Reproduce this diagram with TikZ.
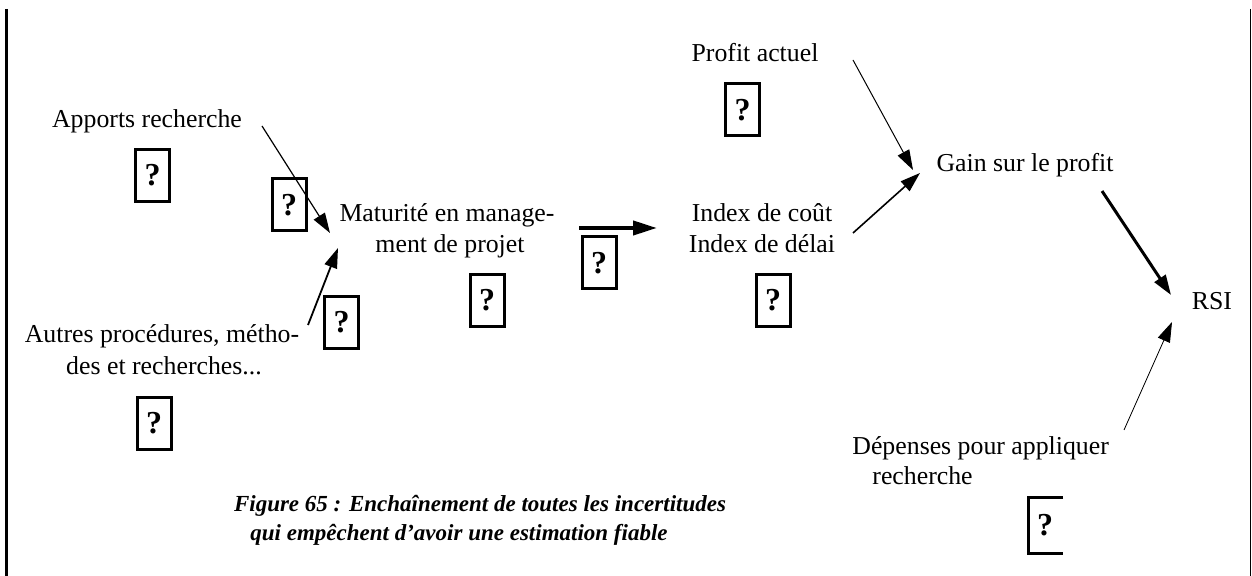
\documentclass[tikz,border=0pt]{standalone}
\usepackage{fontspec}
\setmainfont{Liberation Serif}
\usetikzlibrary{arrows.meta}
\begin{document}
\begin{tikzpicture}[x=0.5pt,y=-0.5pt,
  lbl/.style={anchor=base, inner sep=0pt, font=\fontsize{12.9}{15.5}\selectfont},
  lblw/.style={anchor=base west, inner sep=0pt, font=\fontsize{12.9}{15.5}\selectfont},
  captxt/.style={anchor=base, inner sep=0pt, font=\fontsize{11.5}{14}\selectfont\bfseries\itshape},
  qbox/.style={draw, line width=1.5pt, minimum width=17pt, minimum height=26pt, inner sep=0pt, font=\fontsize{16}{18}\selectfont\bfseries},
  qtext/.style={inner sep=0pt, font=\fontsize{16}{18}\selectfont\bfseries},
  tip/.style={-{Triangle[length=10pt,width=6.5pt]}},
  bigtip/.style={-{Triangle[length=12pt,width=7pt]}}
]
\useasboundingbox (0,0) rectangle (1252,576);
% borders
\coordinate (lt) at (6.5,9); \coordinate (lb) at (6.5,576);
\coordinate (rt) at (1250.5,9); \coordinate (rb) at (1250.5,576);
\draw[line width=1.5pt] (lt) -- (lb);
\draw[line width=0.5pt] (rt) -- (rb);

% labels
\node[lbl] (apports) at (147,128) {Apports recherche};
\node[lbl] (mat1) at (447,222) {Maturité en manage-};
\node[lbl] (mat2) at (450,253) {ment de projet};
\node[lbl] (autres1) at (162,343) {Autres procédures, métho-};
\node[lbl] (autres2) at (164,375) {des et recherches...};
\node[lbl] (idx1) at (762,222) {Index de coût};
\node[lbl] (idx2) at (762,253) {Index de délai};
\node[lbl] (profit) at (755,62) {Profit actuel};
\node[lbl] (gain) at (1025,172) {Gain sur le profit};
\node[lbl] (rsi) at (1212,310) {RSI};
\node[lblw] (dep1) at (852,455) {Dépenses pour appliquer};
\node[lblw] (dep2) at (872,485) {recherche};
\node[captxt] (cap1) at (480,511) {Figure 65 : Enchaînement de toutes les incertitudes};
\node[captxt] (cap2) at (459,540) {qui empêchent d’avoir une estimation fiable};

% question boxes
\node[qbox] (q1) at (152.5,175.5) {?};
\node[qbox] (q2) at (289,205) {?};
\node[qbox] (q3) at (341.5,322.5) {?};
\node[qbox] (q4) at (154,423.5) {?};
\node[qbox] (q5) at (487,300.5) {?};
\node[qbox] (q6) at (599,263) {?};
\node[qbox] (q7) at (773,300.5) {?};
\node[qbox] (q8) at (742.5,110) {?};
\node[qtext] (q9) at (1045,525.5) {?};
\coordinate (q9tr) at (1063,497.5);
\coordinate (q9tl) at (1028.5,497.5);
\coordinate (q9bl) at (1028.5,553.5);
\coordinate (q9br) at (1063,553.5);
\draw[line width=1.5pt] (q9tr) -- (q9tl) -- (q9bl) -- (q9br);

% arrow end points
\coordinate (aA) at (262,126); \coordinate (bA) at (330,233);
\coordinate (aB) at (308,325); \coordinate (bB) at (338,248);
\coordinate (aC) at (579,228); \coordinate (bC) at (657,228);
\coordinate (aD) at (853,233); \coordinate (bD) at (920,173);
\coordinate (aE) at (853,60);  \coordinate (bE) at (913,170);
\coordinate (aF) at (1102,191); \coordinate (bF) at (1171,295);
\coordinate (aG) at (1124,430); \coordinate (bG) at (1172,322);

\draw[tip, line width=0.6pt] (aA) -- (bA);
\draw[tip, line width=0.9pt] (aB) -- (bB);
\draw[bigtip, line width=2pt] (aC) -- (bC);
\draw[tip, line width=0.8pt] (aD) -- (bD);
\draw[tip, line width=0.5pt] (aE) -- (bE);
\draw[tip, line width=1.5pt] (aF) -- (bF);
\draw[tip, line width=0.4pt] (aG) -- (bG);
\end{tikzpicture}
\end{document}
